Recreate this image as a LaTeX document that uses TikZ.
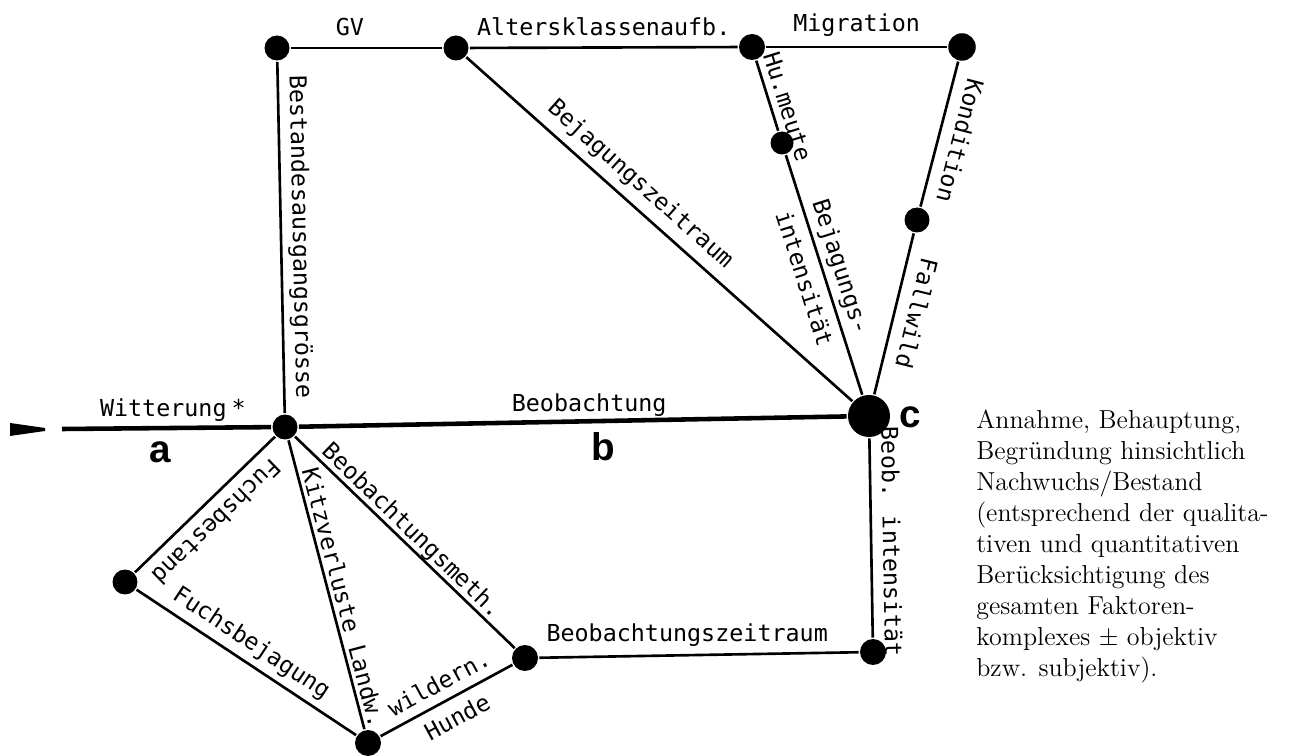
\documentclass[tikz,border=0pt]{standalone}
\usepackage{fontspec}
\usepackage{tikz}
\newfontfamily\lblfont{DejaVu Sans Mono}
\newfontfamily\tagfont{Liberation Sans}

\begin{document}
\begin{tikzpicture} [x=0.02cm, y=-0.02cm, line width=1.5pt,
	dot/.style={circle, fill=black, inner sep=0pt, minimum size=0.5cm},
	lbl/.style={font=\fontsize{13.3}{22}\lblfont, inner sep=0pt, text depth=0pt, outer sep=0.24cm},
	twin/.style={font=\fontsize{13.3}{22}\lblfont, inner sep=0pt, align=center},
	tag/.style={font=\fontsize{22}{26}\tagfont\bfseries, inner sep=0pt}]
			% Frame : same size as the scan
			\useasboundingbox (0,0) rectangle (1291,756);
			% Top row of nodes
			\node (tl) [dot] at (277,48) {};
			\node (ak) [dot] at (456,48) {};
			\node (hu) [dot, minimum size=0.52cm] at (752,47) {};
			\node (tr) [dot, minimum size=0.55cm] at (962,47) {};
			% Nodes on the way down to c
			\node (hm) [dot, minimum size=0.46cm] at (782,143) {};
			\node (fw) [dot] at (917,220) {};
			% Main axis a - b - c
			\node (A) [dot] at (285,427) {};
			\node (C) [dot, minimum size=0.84cm] at (869,416) {};
			\coordinate (in) at (62,429);
			% Lower nodes
			\node (fb) [dot] at (125,582) {};
			\node (kv) [dot, minimum size=0.52cm] at (368,743) {};
			\node (bm) [dot, minimum size=0.52cm] at (525,658) {};
			\node (bi) [dot, minimum size=0.52cm] at (873,652) {};
			% Wedge in front of the axis
			\fill (10,423) -- (45,428) -- (45,431) -- (10,436) -- cycle;
			% Axis
			\draw [line width=2.6pt] (in) -- node [lbl, above, pos=0.53] {Witterung\hspace{0.1cm}*} (A);
			\draw [line width=2.6pt] (A) -- node [lbl, above, pos=0.53, outer sep=0.2cm] {Beobachtung} (C);
			\node (la) [tag] at (160,452) {a};
			\node (lb) [tag] at (603,447) {b};
			\node (lc) [tag] at (910,417) {c};
			% Upper part
			\draw (tl) -- node [lbl, above, pos=0.39] {GV} (ak);
			\draw (ak) -- node [lbl, above] {Altersklassenaufb.} (hu);
			\draw (hu) -- node [lbl, above, outer sep=0.3cm] {Migration} (tr);
			\draw (tl) -- node [lbl, above, sloped] {Bestandesausgangsgrösse} (A);
			\draw (ak) -- node [lbl, above, sloped, pos=0.415, outer sep=0.28cm] {Bejagungszeitraum} (C);
			\draw (hu) -- node [lbl, above, sloped, pos=0.72, outer sep=0.16cm] {Hu.meute} (hm);
			\draw (hm) -- node [twin, sloped, pos=0.49] {Bejagungs-\\intensität} (C);
			\draw (tr) -- node [lbl, above, sloped, allow upside down, pos=0.51, outer sep=0.27cm] {Kondition} (fw);
			\draw (fw) -- node [lbl, above, sloped, allow upside down, pos=0.465, outer sep=0.27cm] {Fallwild} (C);
			% Lower part
			\draw (C) -- node [lbl, above, sloped, pos=0.52] {Beob. intensität} (bi);
			\draw (bm) -- node [lbl, above, pos=0.463, outer sep=0.28cm] {Beobachtungszeitraum} (bi);
			\draw (A) -- node [lbl, above, sloped, allow upside down, pos=0.52] {Fuchsbestand} (fb);
			\draw (fb) -- node [lbl, above, sloped, pos=0.476] {Fuchsbejagung} (kv);
			\draw (A) -- node [lbl, above, sloped, pos=0.556, outer sep=0.1cm] {Kitzverluste Landw.} (kv);
			\draw (A) -- node [lbl, above, sloped, pos=0.49, outer sep=0.12cm] {Beobachtungsmeth.} (bm);
			\draw (kv) -- node [twin, sloped, pos=0.51] {wildern.\\Hunde} (bm);
			% Note on the right
			\node (note) [anchor=north west, align=left, inner sep=0pt, font=\fontsize{14.8}{17.6}\selectfont] at (975,409)
			{Annahme, Behauptung,\\Begründung hinsichtlich\\Nachwuchs/Bestand\\(entsprechend der qualita-\\tiven und quantitativen\\Berücksichtigung des\\gesamten Faktoren-\\komplexes $\pm$ objektiv\\bzw. subjektiv).};
		\end{tikzpicture}
\end{document}
